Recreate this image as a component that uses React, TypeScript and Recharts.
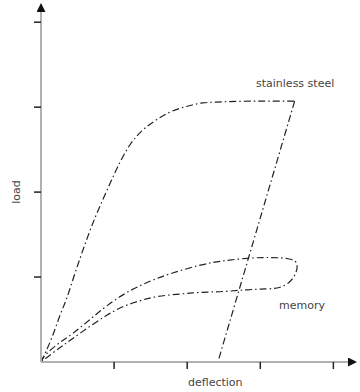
import { LineChart, Line, XAxis, YAxis } from "recharts";

// stainless steel, loading branch
const steelLoadX = [0, 0.15, 0.26, 0.36, 0.44, 0.53, 0.74, 0.85, 0.97, 1.08, 1.22, 1.38, 1.56, 1.76, 2.0, 2.21, 2.41, 2.9, 3.47];
const steelLoadY = [0, 0.29, 0.55, 0.77, 0.98, 1.21, 1.7, 1.92, 2.15, 2.35, 2.56, 2.72, 2.84, 2.94, 3.01, 3.05, 3.06, 3.07, 3.07];

// stainless steel, unloading branch
const steelUnloadX = [3.47, 2.42];
const steelUnloadY = [3.07, 0];

// memory alloy loop (loading then unloading)
const memoryX = [0, 0.08, 0.26, 0.44, 0.67, 0.9, 1.18, 1.49, 1.81, 2.18, 2.49, 2.82, 3.13, 3.41, 3.5, 3.49, 3.41, 3.27, 3.09, 2.82, 2.49, 2.18, 1.9, 1.59, 1.35, 1.12, 0.9, 0.67, 0.44, 0.26, 0];
const memoryY = [0, 0.1, 0.23, 0.34, 0.5, 0.66, 0.82, 0.95, 1.05, 1.14, 1.19, 1.22, 1.23, 1.21, 1.15, 1.06, 0.95, 0.88, 0.86, 0.85, 0.83, 0.82, 0.8, 0.77, 0.72, 0.65, 0.55, 0.42, 0.28, 0.17, 0];

const xTicks = [1, 2, 3, 4];
const yTicks = [1, 2, 3, 4];

const zip = (xs: number[], ys: number[]) => xs.map((x, i) => ({ x, y: ys[i] }));

const FONT = "'DejaVu Sans', sans-serif";
const DASH = "7 3 1.5 3";
const INK = "#222";

export default function App() {
    const steelLoad = zip(steelLoadX, steelLoadY);
    const steelUnload = zip(steelUnloadX, steelUnloadY);
    const memory = zip(memoryX, memoryY);

    return (
        <div style={{ position: "absolute", left: 0, top: 0, width: 360, height: 392, background: "#fff" }}>
            <svg width={0} height={0} style={{ position: "absolute" }}>
                <defs>
                    <marker
                        id="arrow"
                        viewBox="0 0 10 10"
                        refX={0}
                        refY={5}
                        markerWidth={9}
                        markerHeight={9}
                        markerUnits="userSpaceOnUse"
                        orient="auto-start-reverse"
                    >
                        <path d="M0,0 L10,5 L0,10 z" fill="#111" />
                    </marker>
                </defs>
            </svg>
            <LineChart width={360} height={392} margin={{ top: 12, right: 12, bottom: 0, left: 0 }}>
                <XAxis
                    type="number"
                    dataKey="x"
                    domain={[0, 4.2]}
                    ticks={xTicks}
                    allowDataOverflow
                    height={30}
                    tickSize={7}
                    tick={() => <g />}
                    tickLine={{ stroke: "#222", strokeWidth: 1.5 }}
                    axisLine={{ stroke: "#b0b0b0", strokeWidth: 2, markerEnd: "url(#arrow)" }}
                />
                <YAxis
                    type="number"
                    dataKey="y"
                    domain={[0, 4.12]}
                    ticks={yTicks}
                    allowDataOverflow
                    width={41}
                    tickSize={7}
                    tick={() => <g />}
                    tickLine={{ stroke: "#222", strokeWidth: 1.5 }}
                    axisLine={{ stroke: "#b0b0b0", strokeWidth: 2, markerStart: "url(#arrow)" }}
                />
                <Line data={steelLoad} dataKey="y" type="monotone" stroke={INK} strokeWidth={1.2}
                    strokeDasharray={DASH} dot={false} isAnimationActive={false} />
                <Line data={steelUnload} dataKey="y" type="linear" stroke={INK} strokeWidth={1.2}
                    strokeDasharray={DASH} dot={false} isAnimationActive={false} />
                <Line data={memory} dataKey="y" type="natural" stroke={INK} strokeWidth={1.2}
                    strokeDasharray={DASH} dot={false} isAnimationActive={false} />
            </LineChart>
            <svg width={360} height={392} style={{ position: "absolute", left: 0, top: 0, pointerEvents: "none" }}>
                <g fontFamily={FONT} fontSize={11} fill="#444">
                    <text x={256} y={87}>stainless steel</text>
                    <text x={279} y={309}>memory</text>
                    <text x={188} y={386}>deflection</text>
                    <text x={20} y={192} textAnchor="middle" transform="rotate(-90 20 192)">load</text>
                </g>
            </svg>
        </div>
    );
}
